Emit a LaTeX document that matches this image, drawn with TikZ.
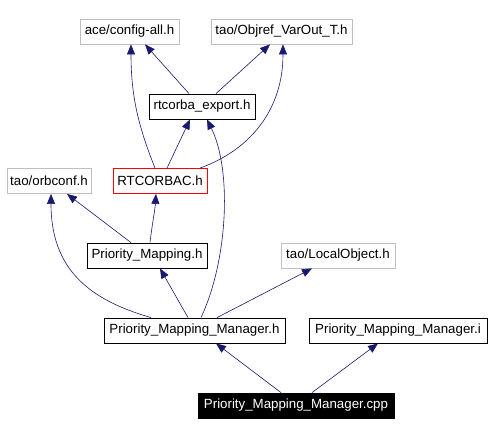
\documentclass[tikz,border=0pt]{standalone}
\usepackage{fontspec}
\setmainfont{Liberation Sans}
\usetikzlibrary{arrows.meta}
\definecolor{edgeblue}{HTML}{191970}
\definecolor{boxgray}{HTML}{BFBFBF}
\tikzset{
  filebox/.style={draw=black, line width=0.8pt, inner sep=0pt, minimum height=25pt, font=\fontsize{13.3}{15}\selectfont},
  extbox/.style={filebox, draw=boxgray},
  redbox/.style={filebox, draw=red},
  mainbox/.style={filebox, fill=black, text=white},
  edge/.style={draw=edgeblue, line width=0.6pt, -{Triangle[length=10pt,width=8pt]}, shorten >=0pt},
}
\begin{document}
\begin{tikzpicture}[x=1pt,y=-1pt]
\useasboundingbox (0,0) rectangle (492,435);
\node[extbox, minimum width=99pt] (ace) at (129.5,31.5) {ace/config-all.h};
\node[extbox, minimum width=141pt] (obj) at (281.5,31.5) {tao/Objref\_VarOut\_T.h};
\node[filebox, minimum width=106pt] (rte) at (202,106.5) {rtcorba\_export.h};
\node[extbox, minimum width=84pt] (orb) at (49,181) {tao/orbconf.h};
\node[redbox, minimum width=94pt] (rtc) at (160,181) {RTCORBAC.h};
\node[filebox, minimum width=120pt] (pm) at (147,255.5) {Priority\_Mapping.h};
\node[extbox, minimum width=114pt] (lo) at (338,255.5) {tao/LocalObject.h};
\node[filebox, minimum width=181pt] (pmm) at (194.5,330.5) {Priority\_Mapping\_Manager.h};
\node[filebox, minimum width=178pt] (pmmi) at (398,330.5) {Priority\_Mapping\_Manager.i};
\node[mainbox, minimum width=196pt] (cpp) at (296,405.5) {Priority\_Mapping\_Manager.cpp};

\draw[edge] ([xshift=-13pt]rte.north) -- ([xshift=15.5pt]ace.south);
\draw[edge] ([xshift=14pt]rte.north) -- ([xshift=-11.5pt]obj.south);
\draw[edge] ([xshift=-5pt]rtc.north) .. controls (140,130) and (131,100) .. ([xshift=1.5pt]ace.south);
\draw[edge] ([xshift=40pt]rtc.north) .. controls (250,150) and (283,110) .. ([xshift=1.5pt]obj.south);
\draw[edge] ([xshift=7pt]rtc.north) -- ([xshift=-12pt]rte.south);
\draw[edge] ([xshift=-16pt]pm.north) -- ([xshift=18pt]orb.south);
\draw[edge] ([xshift=3pt]pm.north) .. controls (152,225) and (155,210) .. ([xshift=-4pt]rtc.south);
\draw[edge] ([xshift=-43.5pt]pmm.north) .. controls (90,300) and (51,270) .. ([xshift=2pt]orb.south);
\draw[edge] ([xshift=-6.5pt]pmm.north) -- ([xshift=13pt]pm.south);
\draw[edge] ([xshift=6.5pt]pmm.north) .. controls (228,260) and (232,170) .. ([xshift=5pt]rte.south);
\draw[edge] ([xshift=22.5pt]pmm.north) -- ([xshift=-26pt]lo.south);
\draw[edge] ([xshift=-15pt]cpp.north) -- ([xshift=21.5pt]pmm.south);
\draw[edge] ([xshift=16pt]cpp.north) -- ([xshift=-20pt]pmmi.south);
\end{tikzpicture}
\end{document}
